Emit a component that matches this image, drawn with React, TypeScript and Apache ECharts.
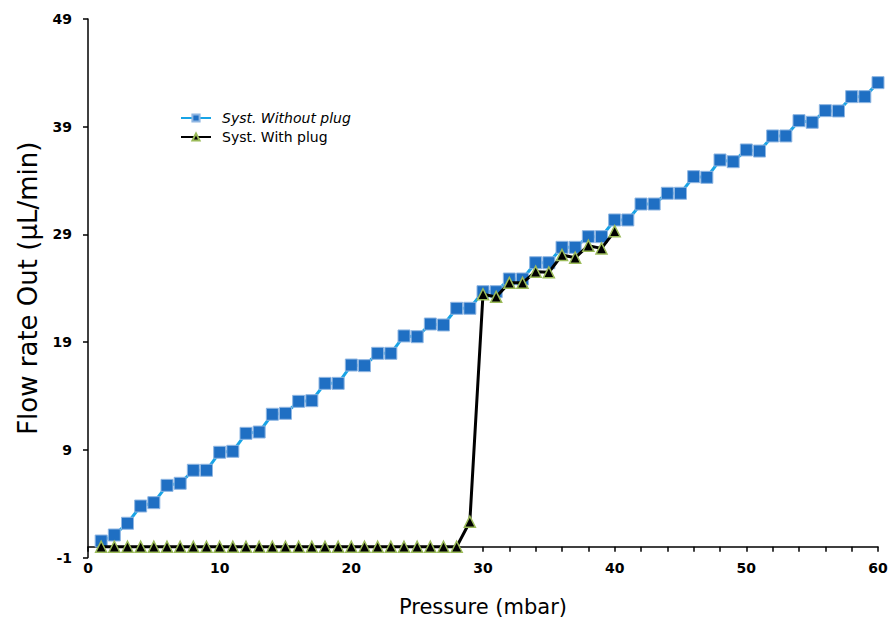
import React, { useEffect, useRef } from "react";
import * as echarts from "echarts";

const pressureWithout = [
  1, 2, 3, 4, 5, 6, 7, 8, 9, 10, 11, 12, 13, 14, 15, 16, 17, 18, 19, 20,
  21, 22, 23, 24, 25, 26, 27, 28, 29, 30, 31, 32, 33, 34, 35, 36, 37, 38, 39, 40,
  41, 42, 43, 44, 45, 46, 47, 48, 49, 50, 51, 52, 53, 54, 55, 56, 57, 58, 59, 60,
];
const flowWithout = [
  0.53, 1.09, 2.18, 3.78, 4.09, 5.7, 5.89, 7.1, 7.1, 8.77,
  8.86, 10.53, 10.65, 12.3, 12.39, 13.5, 13.56, 15.17, 15.17, 16.87,
  16.81, 17.96, 17.96, 19.57, 19.5, 20.68, 20.59, 22.14, 22.14, 23.68,
  23.68, 24.86, 24.86, 26.37, 26.37, 27.8, 27.8, 28.79, 28.79, 30.34,
  30.34, 31.82, 31.82, 32.82, 32.82, 34.36, 34.3, 35.91, 35.75, 36.84,
  36.74, 38.14, 38.14, 39.56, 39.41, 40.49, 40.46, 41.79, 41.79, 43.09,
];
const pressureWith = [
  1, 2, 3, 4, 5, 6, 7, 8, 9, 10, 11, 12, 13, 14, 15, 16, 17, 18, 19, 20,
  21, 22, 23, 24, 25, 26, 27, 28, 29, 30, 31, 32, 33, 34, 35, 36, 37, 38, 39, 40,
];
const flowWith = [
  0, 0, 0, 0, 0, 0, 0, 0, 0, 0,
  0, 0, 0, 0, 0, 0, 0, 0, 0, 0,
  0, 0, 0, 0, 0, 0, 0, 0, 2.32, 23.44,
  23.2, 24.5, 24.5, 25.54, 25.48, 27.09, 26.84, 27.95, 27.7, 29.3,
];
const seriesNames = ["Syst. Without plug", "Syst. With plug"];
const xAxisTitle = "Pressure (mbar)";
const yAxisTitle = "Flow rate Out (µL/min)";

export default function App() {
  const ref = useRef<HTMLDivElement>(null);
  useEffect(() => {
    if (!ref.current) return;
    const chart = echarts.init(ref.current, null, { renderer: "svg" });
    const font = "DejaVu Sans, Verdana, sans-serif";
    chart.setOption({
      animation: false,
      backgroundColor: "#ffffff",
      grid: {
        left: 88,
        right: 11,
        top: 19,
        bottom: 66.5,
        containLabel: false,
        outerBoundsMode: "none",
      },
      legend: {
        left: 175,
        top: 106,
        orient: "vertical",
        itemWidth: 30,
        itemHeight: 9,
        itemGap: 5,
        data: seriesNames,
        textStyle: {
          fontFamily: font,
          fontSize: 14,
          color: "#000",
          padding: [0, 0, 0, 6],
          rich: { i: { fontStyle: "italic", fontFamily: font, fontSize: 14, color: "#000" } },
        },
        formatter: (name: string) => (name === seriesNames[0] ? "{i|" + name + "}" : name),
      },
      xAxis: {
        type: "value",
        min: 0,
        max: 60,
        interval: 10,
        name: xAxisTitle,
        nameLocation: "middle",
        nameGap: 39,
        nameTextStyle: { fontFamily: font, fontSize: 21, color: "#000" },
        axisLine: { onZero: true, lineStyle: { color: "#000", width: 1.5 } },
        axisTick: { show: true, inside: false, length: 5, lineStyle: { color: "#000", width: 1.5 } },
        minorTick: { show: true, splitNumber: 5, length: 5, lineStyle: { color: "#000", width: 1.5 } },
        axisLabel: { fontFamily: font, fontSize: 14, fontWeight: "bold", color: "#000", margin: 3 },
        splitLine: { show: false },
      },
      yAxis: {
        type: "value",
        min: -1,
        max: 49,
        interval: 10,
        name: yAxisTitle,
        nameLocation: "middle",
        nameGap: 47,
        nameTextStyle: { fontFamily: font, fontSize: 26, color: "#000" },
        axisLine: { onZero: true, lineStyle: { color: "#000", width: 1.5 } },
        axisTick: { show: true, inside: false, length: 5, lineStyle: { color: "#000", width: 1.5 } },
        axisLabel: { fontFamily: font, fontSize: 14, fontWeight: "bold", color: "#000", margin: 16 },
        splitLine: { show: false },
      },
      series: [
        {
          name: seriesNames[0],
          type: "line",
          data: pressureWithout.map((x, i) => [x, flowWithout[i]]),
          symbol: "rect",
          symbolSize: 12,
          lineStyle: { color: "#18a4e6", width: 3 },
          itemStyle: { color: "#1f6fc3", borderColor: "#8fb6e2", borderWidth: 1 },
          z: 2,
        },
        {
          name: seriesNames[1],
          type: "line",
          data: pressureWith.map((x, i) => [x, flowWith[i]]),
          symbol: "triangle",
          symbolSize: 11,
          lineStyle: { color: "#000000", width: 3 },
          itemStyle: { color: "#000000", borderColor: "#9bbb59", borderWidth: 1.5 },
          z: 3,
        },
      ],
    });
    return () => chart.dispose();
  }, []);
  return (
    <div
      ref={ref}
      style={{ position: "fixed", left: 0, top: 0, width: 889, height: 624, background: "#fff" }}
    />
  );
}
